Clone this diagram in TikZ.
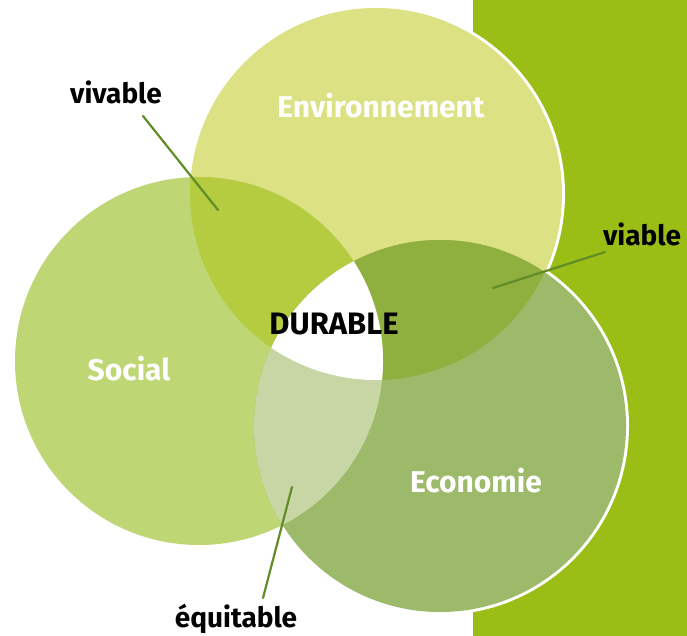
\documentclass[tikz,border=0pt]{standalone}
\usepackage{fontspec}
\setmainfont{Fira Sans}
\definecolor{bandgreen}{RGB}{155,190,22}
\definecolor{envgreen}{RGB}{220,225,132}
\definecolor{socgreen}{RGB}{191,214,116}
\definecolor{ecogreen}{RGB}{156,186,106}
\definecolor{vivgreen}{RGB}{181,204,64}
\definecolor{viagreen}{RGB}{143,176,62}
\definecolor{equgreen}{RGB}{199,214,164}
\definecolor{leadgreen}{RGB}{98,140,38}

\begin{document}
\begin{tikzpicture}[line cap=round,line join=round,x=1pt,y=-1pt,
	circlabel/.style={text=white,font=\bfseries\fontsize{30}{36}\selectfont},
	sidelabel/.style={text=black,font=\bfseries\fontsize{28}{34}\selectfont},
	leader/.style={line width=2.2pt,color=leadgreen}]
	\useasboundingbox (0,0) rectangle (687,636);
	\fill[bandgreen] (473,0) rectangle (687,636);
	\coordinate (cEnv) at (376,194);
	\coordinate (cSoc) at (199,361);
	\coordinate (cEco) at (440,426);
	\draw[white,line width=6pt] (cEnv) circle (186pt);
	\draw[white,line width=6pt] (cSoc) circle (184pt);
	\draw[white,line width=6pt] (cEco) circle (186pt);
	\fill[envgreen] (cEnv) circle (186pt);
	\fill[socgreen] (cSoc) circle (184pt);
	\fill[ecogreen] (cEco) circle (186pt);
	\begin{scope}
		\clip (cEnv) circle (186pt);
		\fill[vivgreen] (cSoc) circle (184pt);
		\fill[viagreen] (cEco) circle (186pt);
	\end{scope}
	\begin{scope}
		\clip (cSoc) circle (184pt);
		\fill[equgreen] (cEco) circle (186pt);
		\clip (cEnv) circle (186pt);
		\fill[white] (cEco) circle (186pt);
	\end{scope}
	\node[circlabel] (env) at (381,106) {Environnement};
	\node[circlabel] (soc) at (129,369) {Social};
	\node[circlabel] (eco) at (476,481) {Economie};
	\node[text=black,font=\bfseries\fontsize{31}{36}\selectfont] (durable) at (334,324) {DURABLE};
	\node[sidelabel] (vivable) at (116,92) {vivable};
	\node[sidelabel] (viable) at (642,234) {viable};
	\node[sidelabel] (equitable) at (236,619) {équitable};
	\coordinate (vivA) at (143,116);
	\coordinate (vivB) at (218,210);
	\coordinate (viaA) at (605,252);
	\coordinate (viaB) at (493,288);
	\coordinate (equA) at (263,598);
	\coordinate (equB) at (292,487);
	\draw[leader] (vivA) -- (vivB);
	\draw[leader] (viaA) -- (viaB);
	\draw[leader] (equA) -- (equB);
\end{tikzpicture}
\end{document}
